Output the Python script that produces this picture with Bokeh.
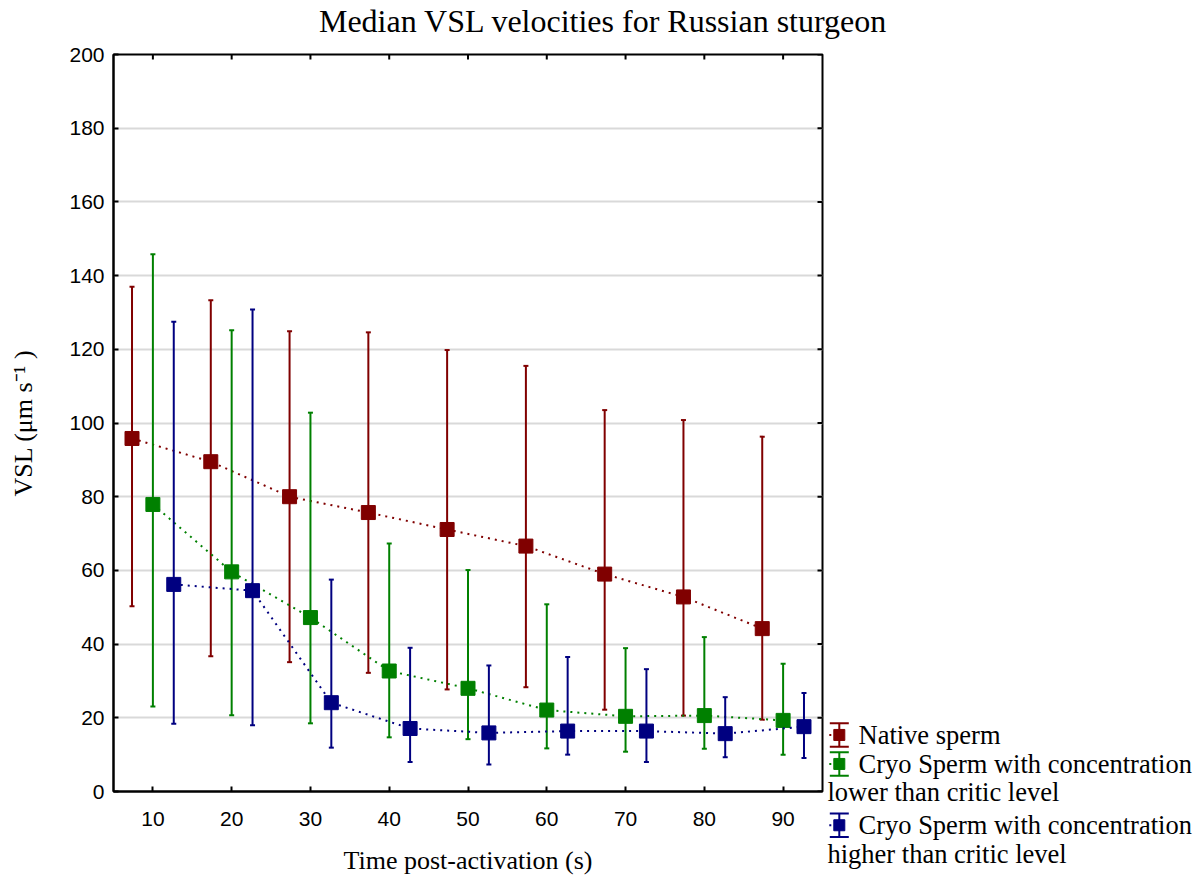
from bokeh.plotting import figure
from bokeh.models import Range1d, FixedTicker, ColumnDataSource
from bokeh.layouts import row, column
from bokeh.core.properties import value
from bokeh.embed import file_html
from bokeh.resources import INLINE

# ---------------- data ----------------
times = [10, 20, 30, 40, 50, 60, 70, 80, 90]

native_med = [95.8, 89.5, 80.0, 75.7, 71.1, 66.6, 59.0, 52.8, 44.2]
native_hi = [137.0, 133.3, 124.9, 124.6, 119.8, 115.5, 103.5, 100.8, 96.3]
native_lo = [50.3, 36.7, 35.1, 32.2, 27.7, 28.3, 22.2, 20.6, 19.5]

cryo_low_med = [77.9, 59.6, 47.2, 32.7, 28.0, 22.1, 20.4, 20.6, 19.3]
cryo_low_hi = [145.8, 125.2, 102.8, 67.3, 60.1, 50.8, 38.9, 41.9, 34.7]
cryo_low_lo = [23.1, 20.7, 18.5, 14.7, 14.2, 11.7, 10.8, 11.6, 10.0]

cryo_high_med = [56.2, 54.5, 24.1, 17.1, 15.9, 16.4, 16.4, 15.7, 17.6]
cryo_high_hi = [127.5, 130.8, 57.5, 39.0, 34.2, 36.5, 33.2, 25.6, 26.7]
cryo_high_lo = [18.4, 18.0, 11.9, 8.0, 7.3, 10.0, 8.0, 9.3, 9.1]

y_ticks = [0, 20, 40, 60, 80, 100, 120, 140, 160, 180, 200]

series_names = ["Native sperm",
                "Cryo Sperm with concentration",
                "Cryo Sperm with concentration"]
series_second_lines = ["", "lower than critic level", "higher than critic level"]

title_text = "Median VSL velocities for Russian sturgeon"
x_label = "Time post-activation (s)"
y_label = "VSL (\u03bcm s\u207b\u00b9 )"

# ---------------- style ----------------
colors = ["#800000", "#008000", "#000080"]
offsets = [-2.65, 0.0, 2.65]
SERIF = "Liberation Serif"
SANS = "Liberation Sans"
X0, X1, Y0, Y1 = 5, 95, 0, 200
FRAME_W, FRAME_H = 709, 737
TICK_PX = 5


def blank_fig(w, h):
    f = figure(width=w, height=h, x_range=Range1d(0, w), y_range=Range1d(h, 0),
               x_axis_location=None, y_axis_location=None,
               output_backend="svg", toolbar_location=None,
               min_border_left=0, min_border_right=0, min_border_top=0, min_border_bottom=0)
    f.grid.visible = False
    f.outline_line_color = None
    f.background_fill_color = "white"
    f.border_fill_color = "white"
    f.frame_align = False
    return f


# ---------------- title strip ----------------
TW, TH = 1200, 40
tf = blank_fig(TW, TH)
tf.text(x=[603], y=[20], text=[title_text], text_font=value(SERIF), text_font_size="32px",
        text_align="center", text_baseline="middle", text_color="black")

# ---------------- main plot ----------------
p = figure(frame_width=FRAME_W, frame_height=FRAME_H, x_range=Range1d(X0, X1), y_range=Range1d(Y0, Y1),
           output_backend="svg", toolbar_location=None,
           min_border_left=113, min_border_right=2, min_border_top=14, min_border_bottom=86)
p.frame_align = False

p.outline_line_color = "black"
p.outline_line_width = 2
p.background_fill_color = "white"
p.border_fill_color = "white"

p.xgrid.grid_line_color = None
p.ygrid.grid_line_color = "#d9d9d9"
p.ygrid.grid_line_width = 2

for ax, ticks in ((p.xaxis[0], times), (p.yaxis[0], y_ticks)):
    ax.ticker = FixedTicker(ticks=ticks)
    ax.major_tick_in = TICK_PX
    ax.major_tick_out = 0
    ax.minor_tick_in = 0
    ax.minor_tick_out = 0
    ax.major_tick_line_width = 2
    ax.axis_line_width = 2
    ax.major_label_text_font = SANS
    ax.major_label_text_font_size = "21px"
    ax.major_label_text_color = "black"
    ax.axis_label_text_font = SERIF
    ax.axis_label_text_font_size = "26px"
    ax.axis_label_text_font_style = "normal"
    ax.axis_label_text_color = "black"

p.xaxis.axis_label = x_label
p.yaxis.axis_label = y_label
p.xaxis.major_label_standoff = 20
p.yaxis.major_label_standoff = 9
p.xaxis.axis_label_standoff = 17
p.yaxis.axis_label_standoff = 28

# inward ticks on the top and right sides of the box
x_per_px = (X1 - X0) / FRAME_W
y_per_px = (Y1 - Y0) / FRAME_H
p.segment(x0=times, y0=[Y1 - TICK_PX * y_per_px] * len(times), x1=times, y1=[Y1] * len(times),
          line_color="black", line_width=2)
p.segment(x0=[X1 - TICK_PX * x_per_px] * len(y_ticks), y0=y_ticks, x1=[X1] * len(y_ticks), y1=y_ticks,
          line_color="black", line_width=2)

all_series = [(native_med, native_hi, native_lo),
              (cryo_low_med, cryo_low_hi, cryo_low_lo),
              (cryo_high_med, cryo_high_hi, cryo_high_lo)]

for (med, hi, lo), col, off in zip(all_series, colors, offsets):
    src = ColumnDataSource(dict(x=[t + off for t in times], med=med, hi=hi, lo=lo))
    p.line("x", "med", source=src, line_color=col, line_width=2, line_dash="2 5")
    p.segment(x0="x", y0="lo", x1="x", y1="hi", source=src, line_color=col, line_width=2)
    p.scatter("x", "hi", source=src, marker="dash", size=5, line_color=col, line_width=2)
    p.scatter("x", "lo", source=src, marker="dash", size=5, line_color=col, line_width=2)
    p.scatter("x", "med", source=src, marker="square", size=14, fill_color=col,
              line_color=col, line_width=1)

# ---------------- legend panel (page y - 40, page x - 824) ----------------
LW, LH = 376, 842
lg = blank_fig(LW, LH)

item_top = [682.7, 711.7, 773.0]
icon_h = 23.5
icon_x = 14.8
text_x = 34
text2_x = 3
mid_off = 11.5      # vertical centre of the first text line below the icon top
line_gap = 28.5

icon_src = ColumnDataSource(dict(
    x=[icon_x] * 3,
    top=item_top,
    bot=[t + icon_h for t in item_top],
    mid=[t + icon_h / 2 for t in item_top],
    col=colors,
))
lg.segment(x0="x", y0="top", x1="x", y1="bot", source=icon_src, line_color="col", line_width=2)
lg.scatter("x", "top", source=icon_src, marker="dash", size=19, line_color="col", line_width=2)
lg.scatter("x", "bot", source=icon_src, marker="dash", size=19, line_color="col", line_width=2)
lg.scatter("x", "mid", source=icon_src, marker="square", size=11, fill_color="col", line_color="col")
lg.scatter(x=[icon_x - 9] * 3, y=[t + icon_h / 2 for t in item_top], marker="square", size=2,
           fill_color=colors, line_color=None)

txt1 = ColumnDataSource(dict(x=[text_x] * 3, y=[t + mid_off for t in item_top], t=series_names))
lg.text("x", "y", text="t", source=txt1, text_font=value(SERIF), text_font_size="26.5px",
        text_baseline="middle", text_align="left", text_color="black")
txt2 = ColumnDataSource(dict(x=[text2_x] * 2, y=[t + mid_off + line_gap for t in item_top[1:]],
                             t=series_second_lines[1:]))
lg.text("x", "y", text="t", source=txt2, text_font=value(SERIF), text_font_size="26.5px",
        text_baseline="middle", text_align="left", text_color="black")

layout = column(tf, row(p, lg))
open("out.html", "w").write(file_html(layout, INLINE))
